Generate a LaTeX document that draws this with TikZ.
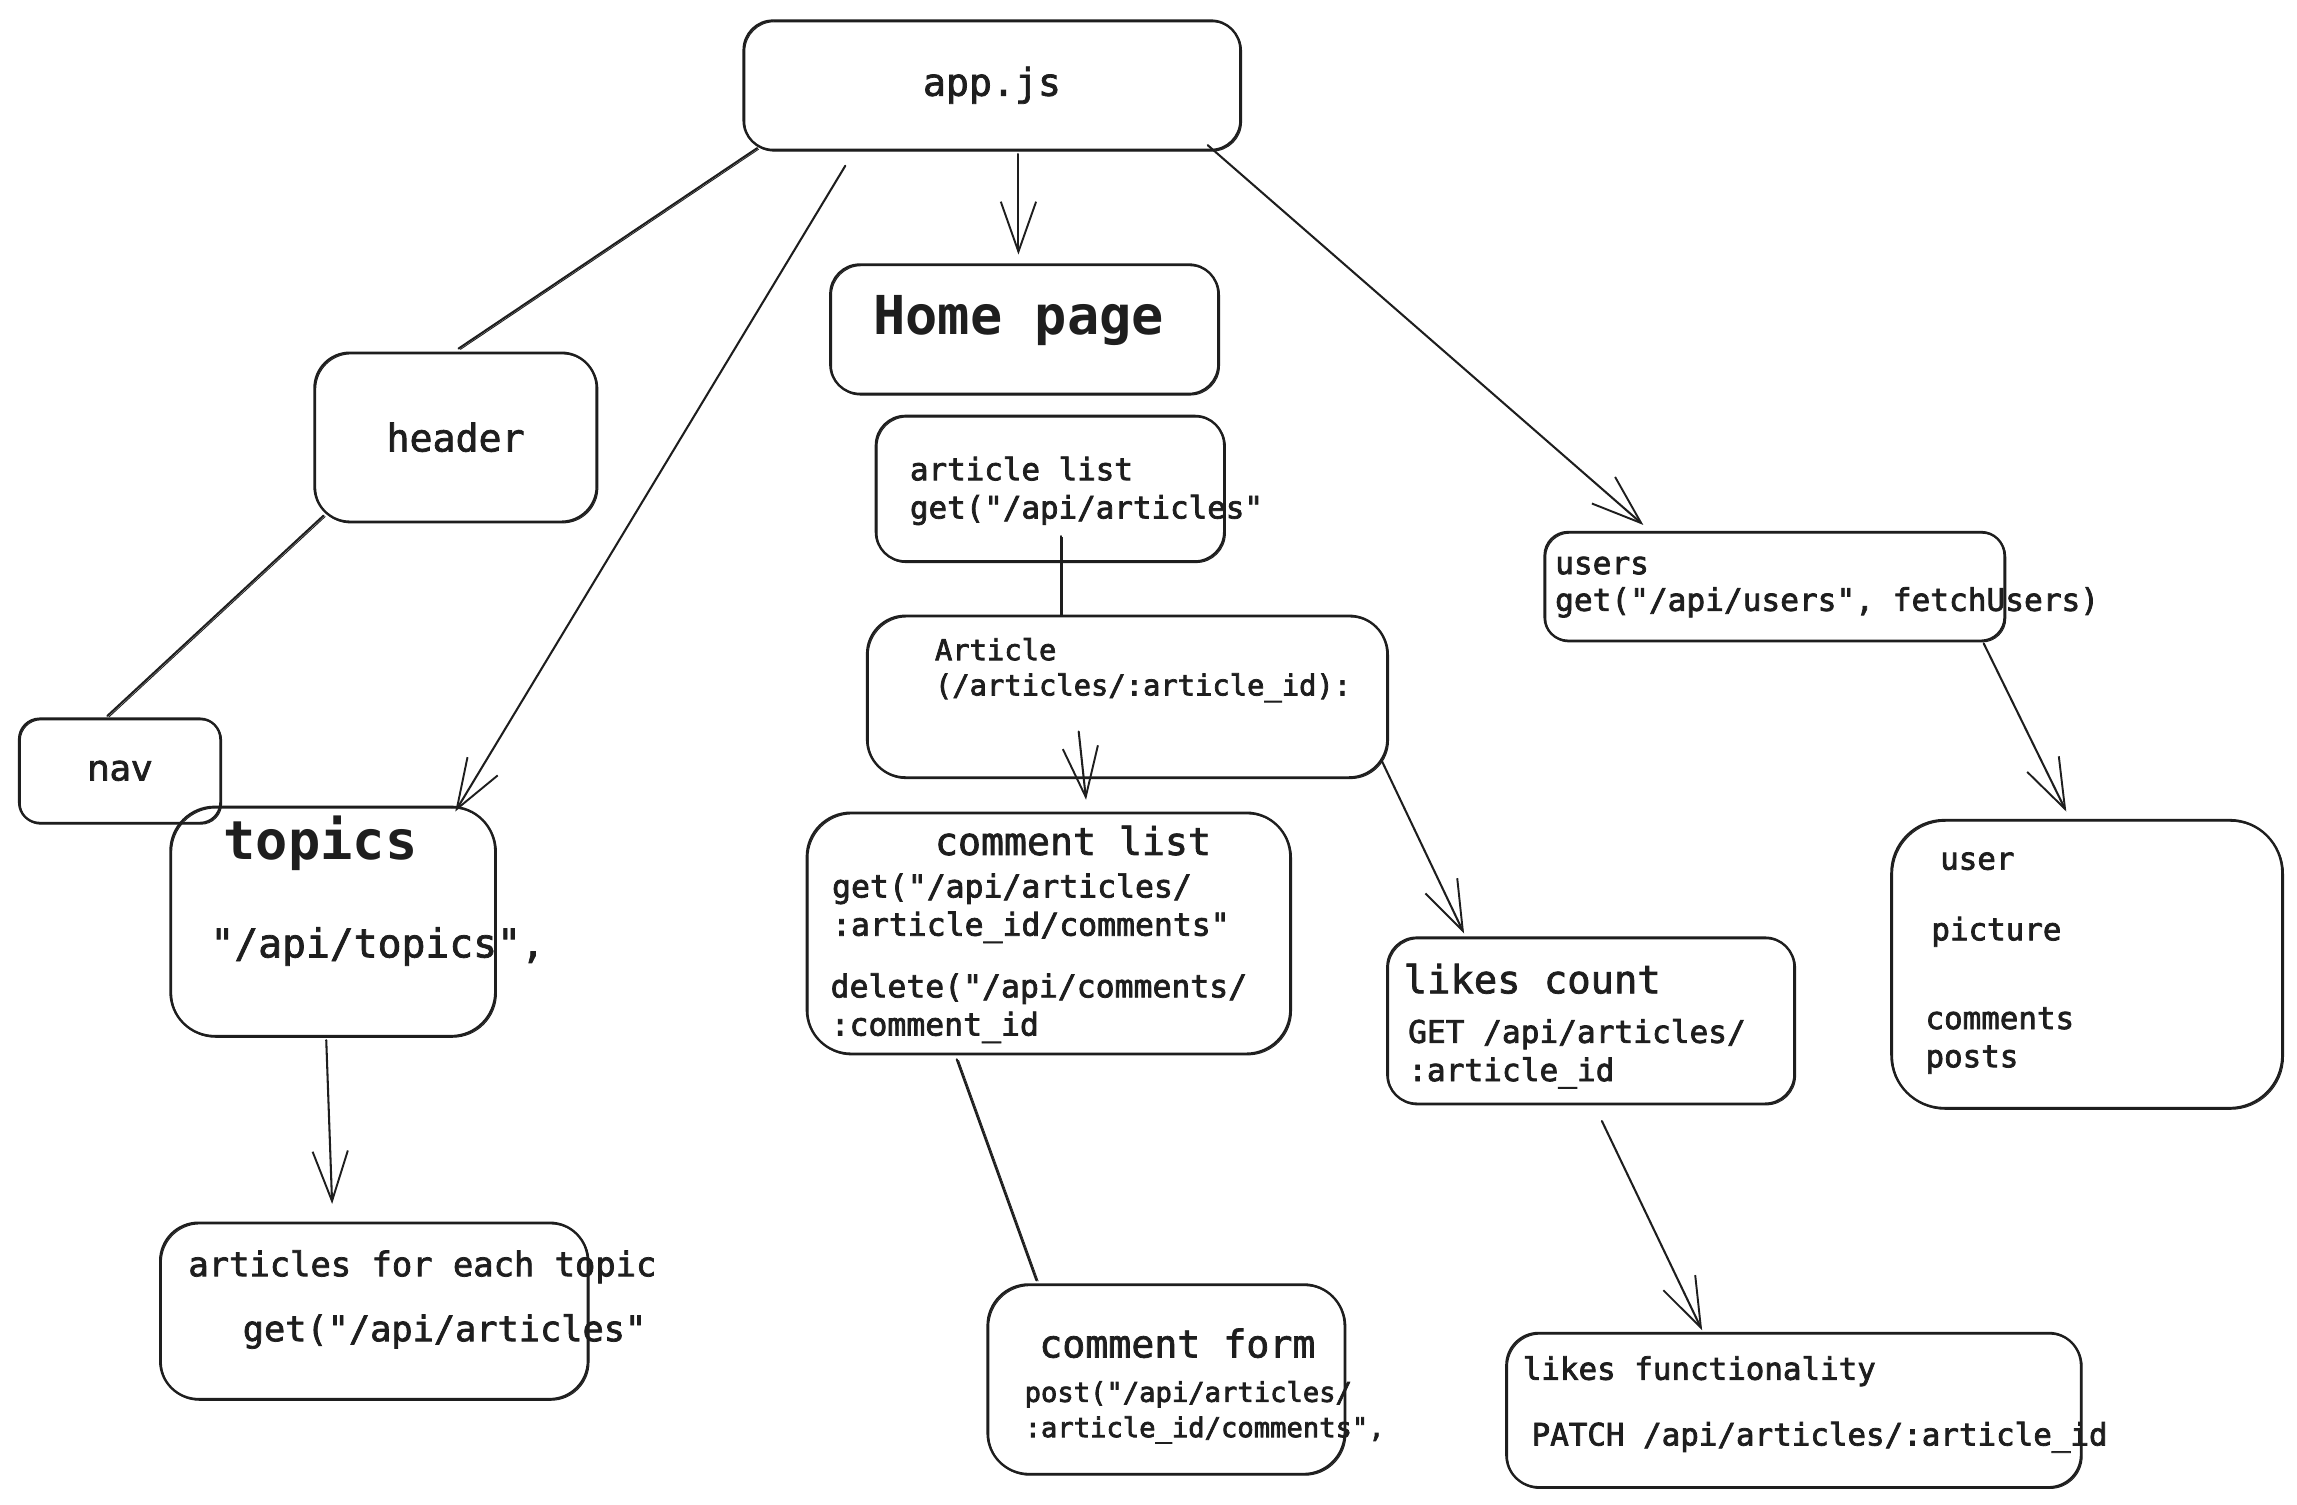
\documentclass[tikz,border=0pt]{standalone}
\usepackage{fontspec}
\newfontfamily\mono{DejaVu Sans Mono}
\newfontfamily\hand{DejaVu Sans}
\newcommand\hv[1]{\special{pdf:code q 2 Tr 0.5 w}#1\special{pdf:code Q}}
\usetikzlibrary{arrows.meta,calc}
\definecolor{ink}{HTML}{1E1E1E}
\newcommand\fsz[2]{\fontsize{#1pt}{#2pt}\selectfont}
\begin{document}
\begin{tikzpicture}[x=1pt,y=-1pt,
  box/.style={draw=ink, line width=1.6pt, rounded corners=20pt, inner sep=0pt,
    text=ink, font=\mono\fsz{26}{30},
    preaction={draw=ink, line width=0.7pt, transform canvas={shift={(0.8,0.8)}}}},
  txt/.style={inner sep=0pt, anchor=west, align=left, text=ink},
  link/.style={draw=ink, line width=1.4pt, line cap=round,
    preaction={draw=ink, line width=0.6pt, transform canvas={shift={(1.2,0.6)}}}},
  arr/.style={draw=ink, line width=1.4pt, line cap=round, -{Straight Barb[length=34pt,width=24pt,line width=1.3pt]}}
]
\useasboundingbox (0,0) rectangle (1563,1024);
\fill[white] (0,0) rectangle (1563,1024);

% boxes
\node[box, minimum width=338pt, minimum height=88pt] (app) at (675,58) {\hv{app.js}};
\node[box, minimum width=264pt, minimum height=88pt] (home) at (697,224) {};
\node[box, minimum width=192pt, minimum height=115pt, rounded corners=24pt] (header) at (310,297.5) {\hv{header}};
\node[box, minimum width=237pt, minimum height=99pt] (alist) at (714.5,332.5) {};
\node[box, minimum width=354pt, minimum height=110pt, rounded corners=26pt] (article) at (767,474) {};
\node[box, minimum width=329pt, minimum height=164pt, rounded corners=30pt] (clist) at (713.5,635) {};
\node[box, minimum width=277pt, minimum height=113pt] (likes) at (1082.5,694.5) {};
\node[box, minimum width=313pt, minimum height=74pt, rounded corners=16pt] (users) at (1207.5,399) {};
\node[box, minimum width=266pt, minimum height=196pt, rounded corners=36pt] (user) at (1420,656) {};
\node[box, minimum width=137pt, minimum height=71pt, rounded corners=14pt, font=\hand\fsz{24}{28}] (nav) at (81.5,524.5) {\hv{nav}};
\node[box, minimum width=221pt, minimum height=156pt, rounded corners=30pt] (topics) at (226.5,627) {};
\node[box, minimum width=291pt, minimum height=120pt, rounded corners=26pt] (afet) at (254.5,892) {};
\node[box, minimum width=243pt, minimum height=129pt, rounded corners=28pt] (cform) at (793.5,938.5) {};
\node[box, minimum width=391pt, minimum height=105pt, rounded corners=22pt] (lfunc) at (1220.5,959.5) {};

% texts
\node[txt, font=\mono\bfseries\fsz{36.5}{40}] (homet) at (594,218) {Home page};
\node[txt, font=\mono\fsz{21}{26}] (alistt) at (619,334) {\hv{article list}\\\hv{get("/api/articles"}};
\node[txt, font=\mono\fsz{19.6}{24}] (articlet) at (636,456) {\hv{Article}\\\hv{(/articles/:article\_id):}};
\node[txt, font=\mono\fsz{26}{30}] (clistt) at (636,572) {\hv{comment list}};
\node[txt, font=\mono\fsz{21.4}{26}] (clistg) at (566,618) {\hv{get("/api/articles/}\\\hv{:article\_id/comments"}};
\node[txt, font=\mono\fsz{21.4}{26}] (clistd) at (565,686) {\hv{delete("/api/comments/}\\\hv{:comment\_id}};
\node[txt, font=\mono\fsz{26.4}{30}] (likest) at (955,666) {\hv{likes count}};
\node[txt, font=\mono\fsz{21.2}{26}] (likesb) at (958,717) {\hv{GET /api/articles/}\\\hv{:article\_id}};
\node[txt, font=\mono\fsz{21.2}{25}] (userst) at (1058,399.5) {\hv{users}\\\hv{get("/api/users", fetchUsers)}};
\node[txt, font=\mono\fsz{21}{26}] (usera) at (1320,586) {\hv{user}};
\node[txt, font=\mono\fsz{21}{26}] (userb) at (1314,634) {\hv{picture}};
\node[txt, font=\mono\fsz{21}{26}] (userc) at (1310,708) {\hv{comments}\\\hv{posts}};
\node[txt, font=\mono\bfseries\fsz{36.5}{40}] (topicst) at (152,574) {topics};
\node[txt, font=\mono\fsz{27}{30}] (topicsb) at (143,644) {\hv{"/api/topics",}};
\node[txt, font=\mono\fsz{23}{27}] (afeta) at (128,862) {\hv{articles for each topic}};
\node[txt, font=\mono\fsz{24}{28}] (afetb) at (165,906) {\hv{get("/api/articles"}};
\node[txt, font=\mono\fsz{26}{30}] (cformt) at (707,914) {\hv{comment form}};
\node[txt, font=\mono\fsz{18.5}{24}] (cformb) at (697,961) {\hv{post("/api/articles/}\\\hv{:article\_id/comments",}};
\node[txt, font=\mono\fsz{21}{26}] (lfunca) at (1036,933) {\hv{likes functionality}};
\node[txt, font=\mono\fsz{21}{26}] (lfuncb) at (1042,978) {\hv{PATCH /api/articles/:article\_id}};

% connectors
\draw[link] ([shift={(10,-2)}]app.south west) -- ([shift={(2,-2)}]header.north);
\draw[arr] ([shift={(70,10)}]app.south west) -- ([shift={(-28,4)}]topics.north east);
\draw[arr] ([shift={(18,2)}]app.south) -- ([shift={(-4,-6)}]home.north);
\draw[arr] ([shift={(-23,-4)}]app.south east) -- ([shift={(68,-4)}]users.north west);
\draw[link] ([shift={(7,-5)}]header.south west) -- ([shift={(-8.5,-1)}]nav.north);
\draw[arr] ([shift={(-4.5,2)}]topics.south) -- ([shift={(-28.5,-12)}]afet.north);
\draw[link] ([shift={(7.5,-18)}]alist.south) -- ([shift={(-45,0)}]article.north);
\draw[arr] ([shift={(-33,-32)}]article.south) -- ([shift={(25.5,-8)}]clist.north);
\draw[arr] ([shift={(-5,-13)}]article.south east) -- ([shift={(53,-2)}]likes.north west);
\draw[arr] ([shift={(-15,1)}]users.south east) -- ([shift={(-14,-5)}]user.north);
\draw[link] ([shift={(-62.5,3)}]clist.south) -- ([shift={(34,-2)}]cform.north west);
\draw[arr] ([shift={(7.5,11)}]likes.south) -- ([shift={(134,-1)}]lfunc.north west);
\end{tikzpicture}
\end{document}
